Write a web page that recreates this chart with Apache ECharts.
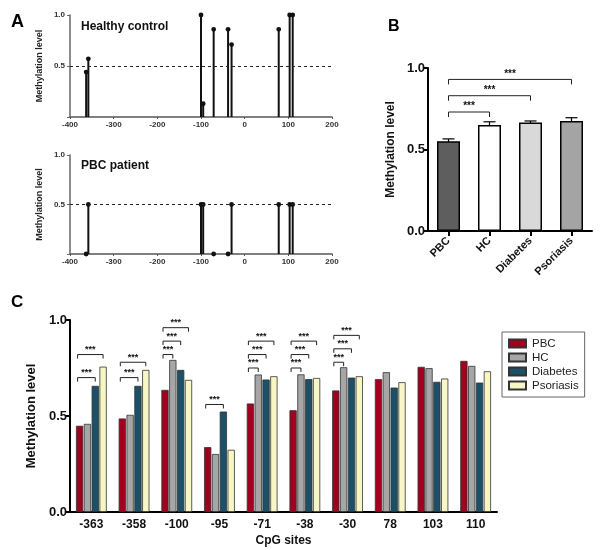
<!DOCTYPE html>
<html><head><meta charset="utf-8">
<script src="https://cdn.jsdelivr.net/npm/echarts@6/dist/echarts.min.js"></script>
<style>html,body{margin:0;padding:0;background:#fff}#c{width:600px;height:550px}</style>
</head><body><div id="c"></div>
<script>
// ---- Panel A data ----
const cpgPositions = [-363, -358, -100, -95, -71, -38, -30, 78, 103, 110];
const healthyControl = [0.44, 0.57, 1.0, 0.13, 0.86, 0.86, 0.71, 0.86, 1.0, 1.0];
const pbcPatient = [0, 0.5, 0.5, 0.5, 0, 0, 0.5, 0.5, 0.5, 0.5];

// ---- Panel B data ----
const groupsB = ['PBC', 'HC', 'Diabetes', 'Psoriasis'];
const meanB = [0.55, 0.65, 0.665, 0.675];
const errB = [0.015, 0.02, 0.01, 0.02];
const bracketsB = [[0, 1, 0.73], [0, 2, 0.83], [0, 3, 0.93]]; // from, to, level

// ---- Panel C data ----
const siteLabels = ['-363', '-358', '-100', '-95', '-71', '-38', '-30', '78', '103', '110'];
const seriesNamesC = ['PBC', 'HC', 'Diabetes', 'Psoriasis'];
const pbcC = [0.449, 0.487, 0.636, 0.338, 0.565, 0.530, 0.633, 0.692, 0.756, 0.787];
const hcC = [0.459, 0.506, 0.792, 0.302, 0.716, 0.717, 0.754, 0.728, 0.749, 0.761];
const diabetesC = [0.657, 0.657, 0.740, 0.523, 0.690, 0.692, 0.700, 0.648, 0.678, 0.674];
const psoriasisC = [0.757, 0.740, 0.688, 0.324, 0.707, 0.698, 0.707, 0.676, 0.695, 0.733];
// [site index, from series, to series, level]
const bracketsC = [
  [0, 0, 2, 0.70], [0, 0, 3, 0.82],
  [1, 0, 2, 0.70], [1, 0, 3, 0.78],
  [2, 0, 1, 0.82], [2, 0, 2, 0.89], [2, 0, 3, 0.96],
  [3, 0, 2, 0.56],
  [4, 0, 1, 0.75], [4, 0, 2, 0.82], [4, 0, 3, 0.89],
  [5, 0, 1, 0.75], [5, 0, 2, 0.82], [5, 0, 3, 0.89],
  [6, 0, 1, 0.78], [6, 0, 2, 0.85], [6, 0, 3, 0.92]
];

// ---- styles ----
const colorsB = ['#5e5e5e', '#ffffff', '#d9d9d9', '#a4a4a4'];
const colorsC = ['#a3001f', '#a6a6a6', '#1c5066', '#f7f7c6'];
const FONT = 'Liberation Sans, Arial, sans-serif';
const CAT_GAP_C = 0.28, BAR_GAP_C = 0.08;

const chart = echarts.init(document.getElementById('c'), null, {renderer: 'canvas'});

function stemSeries(name, vals, idx) {
  return {
    name: name, type: 'custom', xAxisIndex: idx, yAxisIndex: idx,
    data: cpgPositions.map((p, i) => [p, vals[i]]),
    encode: {x: 0, y: 1}, clip: false,
    renderItem: function (params, api) {
      const x = api.value(0), v = api.value(1);
      const p0 = api.coord([x, 0]), p1 = api.coord([x, v]);
      return {type: 'group', children: [
        {type: 'line', shape: {x1: p0[0], y1: p0[1], x2: p1[0], y2: p1[1]}, style: {stroke: '#111', lineWidth: 2}},
        {type: 'circle', shape: {cx: p1[0], cy: p1[1], r: 2.4}, style: {fill: '#111'}}
      ]};
    },
    markLine: {silent: true, symbol: 'none', label: {show: false},
      lineStyle: {type: [3, 3], color: '#222', width: 1}, data: [{yAxis: 0.5}]}
  };
}

function aXAxis(idx) {
  return {type: 'value', gridIndex: idx, min: -400, max: 200, interval: 100,
    axisLine: {show: true, onZero: false, lineStyle: {color: '#555', width: 1.5}},
    axisTick: {show: true, length: 2, lineStyle: {color: '#555'}},
    axisLabel: {fontSize: 8, fontWeight: 'bold', color: '#333', fontFamily: FONT, margin: 4},
    splitLine: {show: false}};
}
function aYAxis(idx) {
  return {type: 'value', gridIndex: idx, min: 0, max: 1, interval: 0.5,
    name: 'Methylation level', nameLocation: 'middle', nameGap: 26,
    nameTextStyle: {fontSize: 9, fontWeight: 'bold', color: '#222', fontFamily: FONT},
    axisLine: {show: true, onZero: false, lineStyle: {color: '#666', width: 1.5}},
    axisTick: {show: true, length: 3, lineStyle: {color: '#666'}},
    axisLabel: {fontSize: 8, fontWeight: 'bold', color: '#333', fontFamily: FONT, margin: 5,
      formatter: v => v === 0 ? '' : v.toFixed(1)},
    splitLine: {show: false}};
}

function barCenterC(api, cat, k) {
  const band = api.size([1, 0])[0];
  const c = api.coord([cat, 0])[0];
  const n = 4;
  const w = band * (1 - CAT_GAP_C) / (n + (n - 1) * BAR_GAP_C);
  const total = n * w + (n - 1) * BAR_GAP_C * w;
  return c - total / 2 + k * w * (1 + BAR_GAP_C) + w / 2;
}

function bracketShape(x1, x2, y, tick, fontSize) {
  return {type: 'group', children: [
    {type: 'polyline', shape: {points: [[x1, y + tick], [x1, y], [x2, y], [x2, y + tick]]},
      style: {stroke: '#222', lineWidth: 1, fill: null}},
    {type: 'text', style: {text: '***', x: (x1 + x2) / 2, y: y - 0.5, align: 'center', verticalAlign: 'bottom',
      font: 'bold ' + fontSize + 'px ' + FONT, fill: '#111'}}
  ]};
}

const cValues = [pbcC, hcC, diabetesC, psoriasisC];

const option = {
  animation: false,
  backgroundColor: '#fff',
  title: [
    {text: 'A', left: 6, top: 8, textStyle: {fontSize: 18, fontWeight: 'bold', color: '#000', fontFamily: FONT}},
    {text: 'B', left: 383, top: 14, textStyle: {fontSize: 16, fontWeight: 'bold', color: '#000', fontFamily: FONT}},
    {text: 'C', left: 6, top: 289, textStyle: {fontSize: 17, fontWeight: 'bold', color: '#000', fontFamily: FONT}},
    {text: 'Healthy control', left: 76, top: 16, textStyle: {fontSize: 12, fontWeight: 'bold', color: '#111', fontFamily: FONT}},
    {text: 'PBC patient', left: 76, top: 155, textStyle: {fontSize: 12, fontWeight: 'bold', color: '#111', fontFamily: FONT}}
  ],
  legend: {
    data: seriesNamesC, left: 502, top: 332, orient: 'vertical',
    itemWidth: 17, itemHeight: 8, itemGap: 1, padding: [5, 6, 5, 6],
    borderColor: '#666', borderWidth: 1, icon: 'rect',
    textStyle: {fontSize: 11.5, lineHeight: 13, color: '#222', fontFamily: FONT, padding: [0, 0, 0, 1]}
  },
  grid: [
    {left: 70, width: 262, top: 15, height: 102, outerBoundsMode: 'none'},
    {left: 70, width: 262, top: 155, height: 99, outerBoundsMode: 'none'},
    {left: 428, width: 164, top: 68, height: 163, outerBoundsMode: 'none'},
    {left: 70, width: 427, top: 320, height: 192, outerBoundsMode: 'none'}
  ],
  xAxis: [
    aXAxis(0), aXAxis(1),
    {type: 'category', gridIndex: 2, data: groupsB,
      axisLine: {show: true, lineStyle: {color: '#000', width: 2}},
      axisTick: {show: true, alignWithLabel: true, length: 5, lineStyle: {color: '#000', width: 2}},
      axisLabel: {rotate: 45, fontSize: 11, fontWeight: 'bold', color: '#111', fontFamily: FONT, margin: 8, interval: 0}},
    {type: 'category', gridIndex: 3, data: siteLabels,
      name: 'CpG sites', nameLocation: 'middle', nameGap: 23,
      nameTextStyle: {fontSize: 12, fontWeight: 'bold', color: '#111', fontFamily: FONT},
      axisLine: {show: true, lineStyle: {color: '#000', width: 2}},
      axisTick: {show: false},
      axisLabel: {fontSize: 12, fontWeight: 'bold', color: '#111', fontFamily: FONT, margin: 7, interval: 0}}
  ],
  yAxis: [
    aYAxis(0), aYAxis(1),
    {type: 'value', gridIndex: 2, min: 0, max: 1, interval: 0.5,
      name: 'Methylation level', nameLocation: 'middle', nameGap: 31,
      nameTextStyle: {fontSize: 12, fontWeight: 'bold', color: '#111', fontFamily: FONT},
      axisLine: {show: true, lineStyle: {color: '#000', width: 2}},
      axisTick: {show: true, length: 4, lineStyle: {color: '#000', width: 2}},
      axisLabel: {fontSize: 13, fontWeight: 'bold', color: '#111', fontFamily: FONT, margin: 3, formatter: v => v.toFixed(1)},
      splitLine: {show: false}},
    {type: 'value', gridIndex: 3, min: 0, max: 1, interval: 0.5,
      name: 'Methylation level', nameLocation: 'middle', nameGap: 28,
      nameTextStyle: {fontSize: 13, fontWeight: 'bold', color: '#111', fontFamily: FONT},
      axisLine: {show: true, lineStyle: {color: '#000', width: 2}},
      axisTick: {show: true, length: 4, lineStyle: {color: '#000', width: 2}},
      axisLabel: {fontSize: 13, fontWeight: 'bold', color: '#111', fontFamily: FONT, margin: 3, formatter: v => v.toFixed(1)},
      splitLine: {show: false}}
  ],
  series: [
    stemSeries('Healthy control', healthyControl, 0),
    stemSeries('PBC patient', pbcPatient, 1),
    {name: 'meanB', type: 'bar', xAxisIndex: 2, yAxisIndex: 2, barWidth: 23,
      data: meanB.map((v, i) => ({value: v, itemStyle: {color: colorsB[i]}})),
      itemStyle: {borderColor: '#000', borderWidth: 1.5}},
    {name: 'errB', type: 'custom', xAxisIndex: 2, yAxisIndex: 2, clip: false,
      data: meanB.map((v, i) => [i, v, errB[i]]), encode: {x: 0, y: 1},
      renderItem: function (params, api) {
        const i = api.value(0), m = api.value(1), e = api.value(2);
        const hi = api.coord([i, m + e]), lo = api.coord([i, m - e]);
        const hw = 6;
        return {type: 'group', children: [
          {type: 'line', shape: {x1: hi[0], y1: hi[1], x2: lo[0], y2: lo[1]}, style: {stroke: '#000', lineWidth: 1.2}},
          {type: 'line', shape: {x1: hi[0] - hw, y1: hi[1], x2: hi[0] + hw, y2: hi[1]}, style: {stroke: '#000', lineWidth: 1.2}},
          {type: 'line', shape: {x1: lo[0] - hw, y1: lo[1], x2: lo[0] + hw, y2: lo[1]}, style: {stroke: '#000', lineWidth: 1.2}}
        ]};
      }},
    {name: 'bracketsB', type: 'custom', xAxisIndex: 2, yAxisIndex: 2, clip: false,
      data: bracketsB, encode: {x: 0, y: 2},
      renderItem: function (params, api) {
        const a = api.coord([api.value(0), api.value(2)]);
        const b = api.coord([api.value(1), api.value(2)]);
        return bracketShape(a[0], b[0], a[1], 5, 10);
      }},
    ...seriesNamesC.map((nm, k) => ({
      name: nm, type: 'bar', xAxisIndex: 3, yAxisIndex: 3,
      barCategoryGap: (CAT_GAP_C * 100) + '%', barGap: (BAR_GAP_C * 100) + '%',
      data: cValues[k],
      itemStyle: {color: colorsC[k], borderColor: '#333', borderWidth: 0.8}
    })),
    {name: 'bracketsC', type: 'custom', xAxisIndex: 3, yAxisIndex: 3, clip: false,
      data: bracketsC, encode: {x: 0, y: 3},
      renderItem: function (params, api) {
        const cat = api.value(0), f = api.value(1), t = api.value(2), lv = api.value(3);
        const y = api.coord([cat, lv])[1];
        const x1 = barCenterC(api, cat, f) - 2, x2 = barCenterC(api, cat, t);
        return bracketShape(x1, x2, y, 4, 9);
      }}
  ]
};
chart.setOption(option);
</script></body></html>
